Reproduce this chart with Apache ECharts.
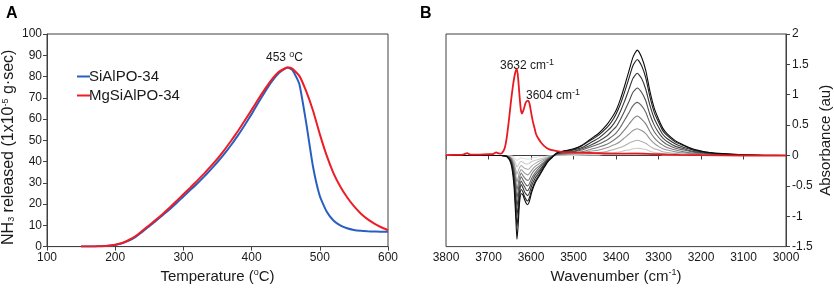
<!DOCTYPE html>
<html>
<head>
<meta charset="utf-8">
<script src="https://cdn.jsdelivr.net/npm/echarts@6/dist/echarts.min.js"></script>
<style>
  html, body { margin: 0; padding: 0; background: #fff; }
  #main { width: 834px; height: 289px; }
</style>
</head>
<body>
<div id="main"></div>
<script>
// ---- panel A : NH3-TPD ----
const temps = [150,160,170,180,190,200,210,220,230,240,250,260,270,280,290,300,310,320,330,340,350,360,370,380,390,400,410,420,430,440,450,453,460,470,480,490,500,510,520,530,540,550,560,570,580,590,600];
const sialpo = [0,0,0.1,0.2,0.4,0.8,1.5,2.8,4.6,7.0,9.6,12.2,14.9,17.6,20.5,23.6,26.6,29.6,32.8,36.2,39.8,43.6,47.8,52.3,57.2,62.3,67.8,73.0,77.8,81.6,83.9,84.2,83.0,76.5,58.3,37.7,23.8,16.5,12.3,10.0,8.6,7.8,7.4,7.2,7.1,7.0,7.0];
const mgsialpo = [0,0,0.1,0.2,0.4,0.9,1.7,3.1,5.0,7.5,10.0,12.7,15.5,18.4,21.5,24.6,27.7,30.9,34.2,37.7,41.4,45.4,49.8,54.4,59.3,64.3,69.4,74.3,78.8,82.2,84.0,84.2,83.6,80.3,73.1,64.0,52.9,42.9,34.6,28.3,23.2,19.0,15.6,12.9,10.8,9.1,7.7];

// ---- panel B : IR difference spectra ----
const redWn = [3800,3780,3760,3750,3745,3735,3720,3700,3690,3682,3678,3672,3668,3662,3657,3652,3647,3643,3639,3636,3633,3630,3627,3624,3621,3617,3613,3609,3606,3603,3600,3596,3592,3588,3582,3576,3568,3557,3545,3530,3500,3450,3400,3350,3300,3250,3200,3100,3000];
const redAbs = [0.005,0.01,0.015,0.04,0.02,0.015,0.015,0.02,0.02,0.05,0.04,0.03,0.04,0.12,0.3,0.58,0.9,1.12,1.3,1.39,1.42,1.25,0.98,0.76,0.69,0.76,0.86,0.9,0.9,0.84,0.72,0.57,0.46,0.35,0.27,0.21,0.15,0.1,0.08,0.06,0.05,0.04,0.03,0.03,0.02,0.01,0.005,0,0];

const greyWn = [3800,3700,3670,3660,3655,3650,3645,3640,3636,3633,3630,3627,3623,3619,3615,3611,3608,3604,3598,3590,3580,3570,3560,3550,
  3540,3520,3500,3480,3460,3440,3420,3410,3400,3390,3380,3370,3360,3350,3340,3330,3320,3310,3300,3290,3280,3260,3240,3220,3200,3180,3150,3100,3050,3000];
const grey1 = [0,0,0,0,0,-0.01,-0.01,-0.03,-0.06,-0.08,-0.07,-0.05,-0.04,-0.05,-0.05,-0.06,-0.06,-0.06,-0.04,-0.03,-0.02,-0.02,-0.01,0,
  0,0,0,0.01,0.01,0.01,0.02,0.02,0.02,0.03,0.03,0.04,0.05,0.05,0.05,0.04,0.03,0.02,0.02,0.01,0.01,0.01,0.01,0,0,0,0,0,0,0];
const grey2 = [0,0,0,0,0,-0.01,-0.03,-0.07,-0.14,-0.19,-0.16,-0.12,-0.1,-0.11,-0.13,-0.14,-0.14,-0.13,-0.1,-0.08,-0.06,-0.04,-0.02,-0.01,
  0,0.01,0.01,0.01,0.02,0.03,0.04,0.04,0.05,0.06,0.08,0.09,0.11,0.12,0.11,0.1,0.07,0.05,0.04,0.03,0.02,0.02,0.01,0.01,0.01,0,0,0,0,0];
const grey3 = [0,0,0,0,-0.01,-0.02,-0.05,-0.11,-0.23,-0.31,-0.25,-0.2,-0.16,-0.19,-0.21,-0.22,-0.23,-0.22,-0.17,-0.13,-0.09,-0.06,-0.03,-0.01,
  0.01,0.01,0.02,0.02,0.04,0.05,0.07,0.09,0.11,0.13,0.16,0.2,0.23,0.25,0.23,0.2,0.15,0.11,0.09,0.06,0.05,0.03,0.02,0.02,0.01,0.01,0,0,0,0];
const grey4 = [0,0,0,0,-0.01,-0.03,-0.06,-0.16,-0.32,-0.44,-0.36,-0.28,-0.23,-0.26,-0.29,-0.31,-0.32,-0.3,-0.24,-0.18,-0.13,-0.08,-0.04,-0.01,
  0.01,0.02,0.03,0.04,0.07,0.09,0.13,0.16,0.19,0.23,0.29,0.35,0.41,0.44,0.41,0.36,0.27,0.2,0.15,0.11,0.09,0.06,0.04,0.03,0.02,0.01,0.01,0,0,0];
const grey5 = [0,0,0,0,-0.01,-0.03,-0.08,-0.21,-0.41,-0.57,-0.46,-0.36,-0.29,-0.33,-0.37,-0.4,-0.41,-0.39,-0.3,-0.23,-0.17,-0.11,-0.05,-0.01,
  0.02,0.03,0.04,0.06,0.1,0.14,0.19,0.23,0.28,0.34,0.42,0.51,0.6,0.65,0.6,0.52,0.39,0.29,0.22,0.17,0.13,0.09,0.06,0.04,0.03,0.02,0.01,0,0,0];
const grey6 = [0,0,0,-0.01,-0.02,-0.04,-0.1,-0.25,-0.51,-0.7,-0.57,-0.44,-0.35,-0.4,-0.45,-0.49,-0.5,-0.47,-0.37,-0.28,-0.2,-0.13,-0.06,-0.01,
  0.02,0.04,0.06,0.09,0.14,0.19,0.26,0.31,0.37,0.46,0.58,0.7,0.82,0.875,0.82,0.71,0.53,0.39,0.3,0.23,0.18,0.12,0.09,0.06,0.04,0.03,0.02,0.01,0,0];
const grey7 = [0,0,0,-0.01,-0.02,-0.05,-0.12,-0.31,-0.61,-0.84,-0.68,-0.52,-0.42,-0.47,-0.52,-0.57,-0.58,-0.54,-0.43,-0.32,-0.24,-0.15,-0.07,-0.02,
  0.03,0.05,0.07,0.11,0.17,0.24,0.33,0.4,0.47,0.59,0.73,0.88,1.04,1.11,1.04,0.9,0.67,0.5,0.38,0.29,0.23,0.15,0.11,0.07,0.05,0.03,0.02,0.01,0,0];
const grey8 = [0,0,0,-0.01,-0.02,-0.06,-0.14,-0.36,-0.72,-0.99,-0.8,-0.6,-0.48,-0.53,-0.6,-0.64,-0.66,-0.62,-0.49,-0.37,-0.27,-0.17,-0.08,-0.02,
  0.03,0.06,0.09,0.13,0.21,0.29,0.41,0.48,0.58,0.72,0.89,1.08,1.27,1.355,1.27,1.09,0.82,0.61,0.47,0.35,0.28,0.19,0.13,0.09,0.06,0.04,0.02,0.01,0,0];
const grey9 = [0,0,0,-0.01,-0.03,-0.07,-0.17,-0.42,-0.85,-1.17,-0.95,-0.69,-0.56,-0.6,-0.68,-0.73,-0.75,-0.7,-0.56,-0.42,-0.31,-0.19,-0.09,-0.03,
  0.03,0.07,0.1,0.16,0.25,0.34,0.47,0.56,0.68,0.84,1.04,1.26,1.48,1.58,1.48,1.28,0.96,0.71,0.55,0.41,0.33,0.22,0.16,0.1,0.07,0.05,0.03,0.01,0,0];
const grey10 = [0,0,0,-0.01,-0.03,-0.08,-0.2,-0.5,-1.0,-1.38,-1.12,-0.78,-0.63,-0.65,-0.73,-0.79,-0.81,-0.76,-0.6,-0.45,-0.33,-0.21,-0.1,-0.03,
  0.04,0.08,0.11,0.17,0.27,0.37,0.52,0.62,0.74,0.92,1.14,1.38,1.62,1.735,1.62,1.4,1.05,0.78,0.6,0.45,0.36,0.24,0.17,0.11,0.075,0.05,0.03,0.01,0.003,0];
const greySpectra = [grey1, grey2, grey3, grey4, grey5, grey6, grey7, grey8, grey9, grey10];
const greyColors = ['#e2e2e2','#cacaca','#b0b0b0','#969696','#7c7c7c','#646464','#4c4c4c','#363636','#222222','#0a0a0a'];

const FONT = 'Liberation Sans';
const axisCol = '#404040';
const txtCol = '#1a1a1a';

function pairs(xs, ys) { return xs.map((x, i) => [x, ys[i]]); }

const supSub = {
  sup: { fontSize: 9, fontFamily: FONT, color: txtCol, padding: [0, 0, 7, 0] },
  sub: { fontSize: 9, fontFamily: FONT, color: txtCol, padding: [6, 0, 0, 0] }
};

const chart = echarts.init(document.getElementById('main'));

const series = [
  { name: 'SiAlPO-34', type: 'line', xAxisIndex: 0, yAxisIndex: 0, data: pairs(temps, sialpo),
    showSymbol: false, smooth: 0.15, lineStyle: { color: '#2a5fc2', width: 2 }, itemStyle: { color: '#2a5fc2' }, z: 3 },
  { name: 'MgSiAlPO-34', type: 'line', xAxisIndex: 0, yAxisIndex: 0, data: pairs(temps, mgsialpo),
    showSymbol: false, smooth: 0.15, lineStyle: { color: '#ee1c25', width: 2 }, itemStyle: { color: '#ee1c25' }, z: 4 }
];
greySpectra.forEach((s, i) => {
  series.push({ type: 'line', xAxisIndex: 1, yAxisIndex: 1, data: pairs(greyWn, s), showSymbol: false,
    smooth: 0.2, lineStyle: { color: greyColors[i], width: 1.1 }, z: 2, silent: true });
});
series.push({ type: 'line', xAxisIndex: 1, yAxisIndex: 1, data: pairs(redWn, redAbs), showSymbol: false,
  smooth: 0.2, lineStyle: { color: '#e8191f', width: 1.8 }, z: 3 });

const axisCommon = {
  axisLine: { show: true, lineStyle: { color: axisCol } },
  axisTick: { show: true, length: 4, lineStyle: { color: axisCol } },
  splitLine: { show: false }
};

chart.setOption({
  animation: false,
  textStyle: { fontFamily: FONT },
  grid: [
    { left: 47, right: 446, top: 34, bottom: 41, show: true, borderColor: axisCol, borderWidth: 1 },
    { left: 446, right: 48, top: 34, bottom: 41, show: true, borderColor: axisCol, borderWidth: 1 }
  ],
  legend: {
    data: ['SiAlPO-34', 'MgSiAlPO-34'], orient: 'vertical', left: 72, top: 64, itemGap: 4,
    icon: 'rect', itemWidth: 13, itemHeight: 2,
    textStyle: { fontSize: 15, color: txtCol, fontFamily: FONT, padding: [0, 0, 0, -6] }
  },
  xAxis: [
    Object.assign({ type: 'value', gridIndex: 0, min: 100, max: 600, interval: 100,
      name: 'Temperature ({sup|o}C)', nameLocation: 'middle', nameGap: 21,
      nameTextStyle: { fontSize: 15, color: txtCol, fontFamily: FONT, rich: supSub },
      axisLabel: { fontSize: 12, color: txtCol, margin: 5 } }, axisCommon),
    Object.assign({ type: 'value', gridIndex: 1, min: 3000, max: 3800, interval: 100, inverse: true,
      name: 'Wavenumber (cm{sup|-1})', nameLocation: 'middle', nameGap: 21,
      nameTextStyle: { fontSize: 15, color: txtCol, fontFamily: FONT, rich: supSub },
      axisLabel: { fontSize: 12, color: txtCol, margin: 5, formatter: v => String(v) } }, axisCommon)
  ],
  yAxis: [
    Object.assign({ type: 'value', gridIndex: 0, min: 0, max: 100, interval: 10,
      name: 'NH{sub|3} released (1x10{sup|-5} g·sec)', nameLocation: 'middle', nameGap: 30,
      nameTextStyle: { fontSize: 16, color: txtCol, fontFamily: FONT, rich: supSub, padding: [0, 14, 0, 0] },
      axisLabel: { fontSize: 12, color: txtCol, margin: 5 } }, axisCommon),
    Object.assign({ type: 'value', gridIndex: 1, position: 'right', min: -1.5, max: 2, interval: 0.5,
      name: 'Absorbance (au)', nameLocation: 'middle', nameGap: 32, nameRotate: 90,
      nameTextStyle: { fontSize: 15, color: txtCol, fontFamily: FONT },
      axisLabel: { fontSize: 12, color: txtCol, margin: 6 } }, axisCommon)
  ],
  graphic: [
    { type: 'text', left: 6, top: 6, style: { text: 'A', font: 'bold 16px ' + FONT, fill: '#000' } },
    { type: 'text', left: 420, top: 6, style: { text: 'B', font: 'bold 16px ' + FONT, fill: '#000' } },
    { type: 'text', left: 266, top: 50, style: { text: '453 {sup|o}C', font: '12px ' + FONT, fill: txtCol, rich: supSub } },
    { type: 'text', left: 500, top: 58, style: { text: '3632 cm{sup|-1}', font: '12px ' + FONT, fill: txtCol, rich: supSub } },
    { type: 'text', left: 526, top: 88, style: { text: '3604 cm{sup|-1}', font: '12px ' + FONT, fill: txtCol, rich: supSub } }
  ],
  series: series
});
</script>
</body>
</html>
